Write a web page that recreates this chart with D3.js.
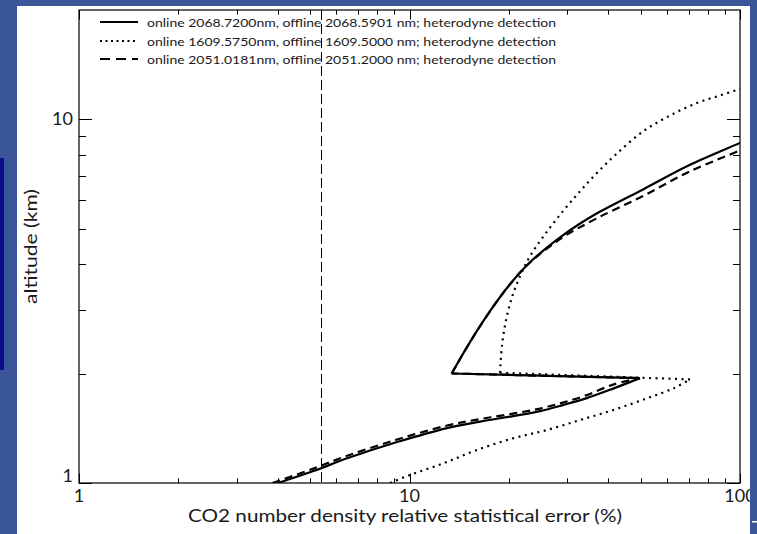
<!DOCTYPE html>
<html>
<head>
<meta charset="utf-8">
<script src="https://cdn.jsdelivr.net/npm/d3@7"></script>
<style>
  html, body { margin: 0; padding: 0; background: #3b5698; }
  svg { display: block; }
  text { font-family: Lato, "DejaVu Sans", sans-serif; fill: #1a1a1a; }
</style>
</head>
<body>
<svg id="chart" width="757" height="534"></svg>
<script>
// ---------------- data ----------------
// series 1: online 2068.7200nm, offline 2068.5901 nm (solid)
const err2068 = [4.0, 5.07, 6.51, 9.17, 12.99, 16.35, 20.56, 24.83, 29.1, 34.4, 41.3, 49.8,
                 13.42, 15.24, 17.52, 20.14, 23.15, 29.1, 36.93, 50.9, 70.6, 100, 104];
const alt2068 = [1.0, 1.075, 1.171, 1.296, 1.416, 1.475, 1.528, 1.577, 1.638, 1.712, 1.818, 1.943,
                 2.001, 2.440, 2.968, 3.521, 4.047, 4.800, 5.518, 6.42, 7.50, 8.62, 8.77];
// series 2: online 1609.5750nm, offline 1609.5000 nm (dotted)
const err1609 = [8.73, 10.03, 12.66, 15.97, 20.56, 26.0, 32.8, 41.3, 52.2, 62.8, 70.6,
                 18.79, 19.05, 19.59, 20.42, 21.60, 23.15, 25.70, 29.1, 32.8, 36.93, 42.45, 50.9, 61.4, 74.1, 87.0, 100, 104];
const alt1609 = [1.0, 1.052, 1.133, 1.232, 1.327, 1.398, 1.490, 1.587, 1.709, 1.820, 1.927,
                 2.01, 2.394, 2.804, 3.243, 3.705, 4.204, 4.831, 5.588, 6.342, 7.129, 8.065, 9.27, 10.25, 11.10, 11.64, 12.13, 12.28];
// series 3: online 2051.0181nm, offline 2051.2000 nm (dashed)
const err2051 = [3.85, 5.07, 6.51, 9.17, 12.99, 16.35, 20.56, 24.83, 29.1, 34.4, 41.3, 49.8,
                 13.42, 15.24, 17.52, 20.14, 23.15, 29.1, 36.93, 50.9, 70.6, 100, 104];
const alt2051 = [1.0, 1.092, 1.190, 1.317, 1.439, 1.499, 1.552, 1.602, 1.664, 1.745, 1.865, 1.943,
                 2.001, 2.440, 2.968, 3.521, 4.040, 4.74, 5.35, 6.16, 7.20, 8.22, 8.36];
const seriesLabels = [
  "online 2068.7200nm, offline 2068.5901 nm; heterodyne detection",
  "online 1609.5750nm, offline 1609.5000 nm; heterodyne detection",
  "online 2051.0181nm, offline 2051.2000 nm; heterodyne detection"
];
const refErr = 5.4; // vertical dashed reference line
const xMajorTicks = [1, 10, 100];
const xMinorTicks = [2, 3, 4, 5, 6, 7, 8, 9, 20, 30, 40, 50, 60, 70, 80, 90];
const yMajorTicks = [1, 10];
const yMinorTicks = [2, 3, 4, 5, 6, 7, 8, 9];
const xTitle = "CO2 number density relative statistical error (%)";
const yTitle = "altitude (km)";

// ---------------- layout ----------------
const svg = d3.select("#chart");
const L = 79, R = 740, T = 10, B = 483;
const x = d3.scaleLog().domain([1, 100]).range([L, R]);
const y = d3.scaleLog().domain([1, 20]).range([B, T]);

// backgrounds
svg.append("rect").attr("x", 0).attr("y", 0).attr("width", 757).attr("height", 534).attr("fill", "#3b5698");
svg.append("rect").attr("x", 0).attr("y", 158).attr("width", 4).attr("height", 212).attr("fill", "#0b0b8c");
svg.append("rect").attr("x", 17).attr("y", 6).attr("width", 733).attr("height", 528).attr("fill", "#ffffff");

svg.append("defs").append("clipPath").attr("id", "plotclip")
  .append("rect").attr("x", L).attr("y", T).attr("width", R - L).attr("height", B - T);

const g = svg.append("g");

// ticks
const xMajLen = 9.5, xMinLen = 4.7, yMajLen = 13, yMinLen = 7;
function tickLines(vals, len, axis) {
  vals.forEach(v => {
    if (axis === "x") {
      const px = Math.round(x(v)) + 0.5;
      g.append("line").attr("x1", px).attr("x2", px).attr("y1", B).attr("y2", B - len).attr("stroke", "#000");
      g.append("line").attr("x1", px).attr("x2", px).attr("y1", T).attr("y2", T + len).attr("stroke", "#000");
    } else {
      const py = Math.round(y(v)) + 0.5;
      g.append("line").attr("x1", L).attr("x2", L + len).attr("y1", py).attr("y2", py).attr("stroke", "#000");
      g.append("line").attr("x1", R).attr("x2", R - len).attr("y1", py).attr("y2", py).attr("stroke", "#000");
    }
  });
}
tickLines(xMajorTicks, xMajLen, "x");
tickLines(xMinorTicks, xMinLen, "x");
tickLines(yMajorTicks, yMajLen, "y");
tickLines(yMinorTicks, yMinLen, "y");

// frame
g.append("rect").attr("x", L).attr("y", T).attr("width", R - L).attr("height", B - T)
  .attr("fill", "none").attr("stroke", "#000").attr("stroke-width", 1.2);

// reference line
const rx = Math.round(x(refErr)) + 0.5;
g.append("line").attr("x1", rx).attr("x2", rx).attr("y1", T).attr("y2", B)
  .attr("stroke", "#000").attr("stroke-width", 1).attr("stroke-dasharray", "10,4");

// curves: each profile = lower branch, connecting jump, upper branch
const smooth = d3.line().x(d => x(d[0])).y(d => y(d[1])).curve(d3.curveCatmullRom.alpha(0.5));
const straight = d3.line().x(d => x(d[0])).y(d => y(d[1]));
const series = [
  { err: err2068, alt: alt2068, dash: null },
  { err: err1609, alt: alt1609, dash: "2,4.5" },
  { err: err2051, alt: alt2051, dash: "8,5" }
];
const cg = g.append("g").attr("clip-path", "url(#plotclip)");
series.forEach(s => {
  const pts = s.err.map((e, i) => [e, s.alt[i]]);
  let k = 0;
  while (k < pts.length - 1 && pts[k + 1][0] >= pts[k][0]) k++;
  const parts = [
    [smooth, pts.slice(0, k + 1)],
    [straight, [pts[k], pts[k + 1]]],
    [smooth, pts.slice(k + 1)]
  ];
  parts.forEach(([gen, p]) => {
    cg.append("path").attr("d", gen(p)).attr("fill", "none").attr("stroke", "#000")
      .attr("stroke-width", 2.2).attr("stroke-linejoin", "round")
      .attr("stroke-dasharray", s.dash);
  });
});

// legend
const legY = [22, 41, 59];
series.forEach((s, i) => {
  g.append("line").attr("x1", 100).attr("x2", 138).attr("y1", legY[i]).attr("y2", legY[i])
    .attr("stroke", "#000").attr("stroke-width", 2).attr("stroke-dasharray", s.dash ? (i === 1 ? "2,3.5" : "10,6") : null);
  g.append("text").attr("x", 147).attr("y", legY[i] + 4.5).attr("font-size", 12)
    .attr("textLength", 409).attr("lengthAdjust", "spacingAndGlyphs").text(seriesLabels[i]);
});

// tick labels
xMajorTicks.forEach(v => {
  g.append("text").attr("x", x(v)).attr("y", 502).attr("text-anchor", "middle")
    .attr("font-size", 18).text(v);
});
yMajorTicks.forEach(v => {
  g.append("text").attr("x", 73).attr("y", v === 1 ? y(v) - 1 : y(v) + 6).attr("text-anchor", "end")
    .attr("font-size", 18).text(v);
});

// titles
g.append("text").attr("x", 188).attr("y", 522).attr("font-size", 18)
  .attr("textLength", 434).attr("lengthAdjust", "spacingAndGlyphs").text(xTitle);
g.append("text").attr("transform", "translate(37,304) rotate(-90)").attr("font-size", 17)
  .attr("textLength", 115).attr("lengthAdjust", "spacingAndGlyphs").text(yTitle);

// right blue strip overlapping the "100" label
svg.append("rect").attr("x", 750).attr("y", 0).attr("width", 7).attr("height", 534).attr("fill", "#3b5698");
svg.append("rect").attr("x", 752).attr("y", 521).attr("width", 5).attr("height", 1.5).attr("fill", "#ffffff");
</script>
</body>
</html>
